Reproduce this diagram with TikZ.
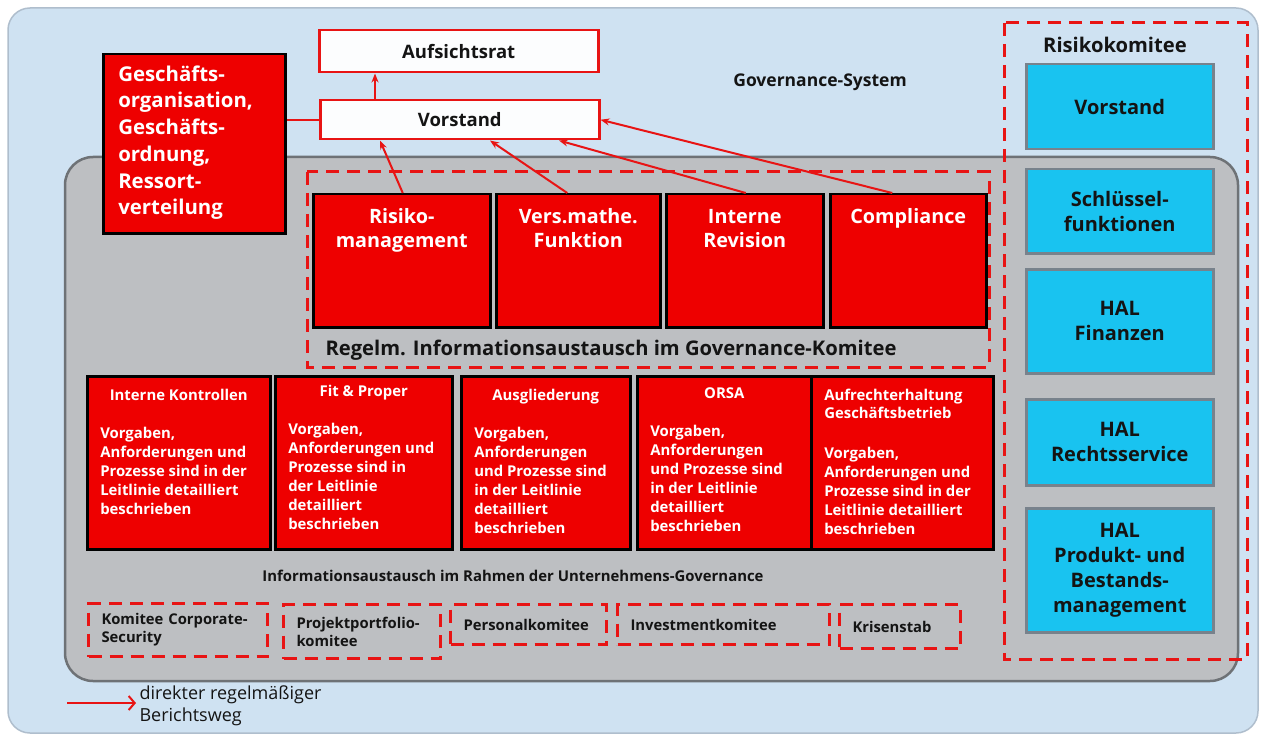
\documentclass[tikz,border=0pt]{standalone}
\usepackage{fontspec}
\setmainfont{Open Sans}
\usetikzlibrary{arrows.meta}

\definecolor{bgblue}{RGB}{207,226,242}
\definecolor{bgedge}{RGB}{175,190,205}
\definecolor{panelgray}{RGB}{189,191,194}
\definecolor{paneledge}{RGB}{110,114,118}
\definecolor{boxred}{RGB}{238,0,0}
\definecolor{linered}{RGB}{232,20,20}
\definecolor{hal}{RGB}{25,195,240}
\definecolor{haledge}{RGB}{120,130,140}
\definecolor{ink}{RGB}{20,20,20}

% text at the top of a fixed box
\newcommand\boxtext[3]{\parbox[c][#2][t]{#1}{#3}}
\newcommand\topgap[1]{\rule{0pt}{#1}}

\tikzset{
  redbox/.style={draw=black, line width=2.5pt, fill=boxred, text=white, inner ysep=0pt, anchor=north west},
  whitebox/.style={draw=linered, line width=2.5pt, fill=white!94!bgblue, text=ink, anchor=north west,
    font=\bfseries\fontsize{18.5}{20}\selectfont},
  halbox/.style={draw=haledge, line width=2.5pt, fill=hal, text=ink, minimum width=187pt,
    anchor=north west, align=center, font=\bfseries\fontsize{20}{25}\selectfont},
  dashbox/.style={draw=linered, line width=3pt, dash pattern=on 13pt off 8pt},
  komitee/.style={dashbox, text=ink, anchor=north west, inner xsep=13pt, inner ysep=0pt, align=left,
    font=\bfseries\fontsize{14.8}{18}\selectfont},
  report/.style={draw=linered, line width=2pt, -{Stealth[length=9pt,width=7pt]}},
  lbl/.style={text=ink, font=\bfseries\fontsize{#1}{#1}\selectfont},
}

\begin{document}
\begin{tikzpicture}[x=1pt,y=-1pt]
\useasboundingbox (0,0) rectangle (1263,738);

% panels
\draw[fill=bgblue, draw=bgedge, line width=1.5pt, rounded corners=22pt] (8,8) rectangle (1258,733);
\draw[fill=panelgray, draw=paneledge, line width=2.5pt, rounded corners=28pt] (65,157) rectangle (1238,681);
\draw[dashbox] (1004,23) rectangle (1247,659);
\draw[dashbox] (307,172) rectangle (989,367);

% top
\node[whitebox, minimum width=279pt, minimum height=42pt] (aufs) at (318,29) {Aufsichtsrat};
\node[whitebox, minimum width=279pt, minimum height=39pt] (vst) at (319,99) {Vorstand};
\node[redbox, inner xsep=15pt, font=\bfseries\fontsize{20.4}{26.7}\selectfont] (gesch) at (102,53)
  {\boxtext{152pt}{179pt}{\raggedright\topgap{27pt}Geschäfts-\\organisation,\\Geschäfts-\\ordnung,\\Ressort-\\verteilung}};
\node[lbl=17.5] (govsys) at (820,82) {Governance-System};

% key functions
\begin{scope}[every node/.append style={redbox, inner xsep=0pt, font=\bfseries\fontsize{19.8}{24}\selectfont}]
\node (risk) at (312,193) {\boxtext{177pt}{133pt}{\centering\topgap{29pt}Risiko-\\management}};
\node (vers) at (495,193) {\boxtext{164pt}{133pt}{\centering\topgap{29pt}Vers.mathe.\\Funktion}};
\node (rev)  at (665,193) {\boxtext{157pt}{133pt}{\centering\topgap{29pt}Interne\\Revision}};
\node (comp) at (829,193) {\boxtext{156pt}{133pt}{\centering\topgap{29pt}Compliance}};
\end{scope}
\node[lbl=20.2, anchor=west] (regelm) at (322,350) {Regelm. Informationsaustausch im Governance-Komitee};

\draw[linered, line width=2pt] (vst.west) -- (vst.west -| gesch.east);
\draw[report] ([xshift=56pt]vst.north west) -- ([xshift=57pt]aufs.south west);
\draw[report] ([xshift=1pt]risk.north) -- ([xshift=61pt]vst.south west);
\draw[report] ([xshift=-11pt]vers.north) -- ([xshift=171pt]vst.south west);
\draw[report] ([xshift=1pt]rev.north) -- ([xshift=240pt]vst.south west);
\draw[report] ([xshift=-16pt]comp.north) -- (vst.east);

% guidelines
\begin{scope}[every node/.append style={redbox, inner xsep=13pt, font=\bfseries\fontsize{14.9}{19}\selectfont}]
\node (ikon) at (86,375) {\boxtext{157pt}{173pt}{\centering\topgap{24pt}Interne Kontrollen\par\raggedright\vspace{19pt}%
  Vorgaben,\\Anforderungen und\\Prozesse sind in der\\Leitlinie detailliert\\beschrieben}};
\node (fit) at (274,375) {\boxtext{151pt}{173pt}{\centering\topgap{20pt}Fit \& Proper\par\raggedright\vspace{19pt}%
  Vorgaben,\\Anforderungen und\\Prozesse sind in\\der Leitlinie\\detailliert\\beschrieben}};
\node (ausg) at (460,375) {\boxtext{143pt}{173pt}{\centering\topgap{24pt}Ausgliederung\par\raggedright\vspace{19pt}%
  Vorgaben,\\Anforderungen\\und Prozesse sind\\in der Leitlinie\\detailliert\\beschrieben}};
\node (orsa) at (636,375) {\boxtext{148pt}{173pt}{\centering\topgap{22pt}ORSA\par\raggedright\vspace{19pt}%
  Vorgaben,\\Anforderungen\\und Prozesse sind\\in der Leitlinie\\detailliert\\beschrieben}};
\node (aufr) at (810,375) {\boxtext{156pt}{173pt}{\raggedright\topgap{24pt}Aufrechterhaltung\\[-1pt]Geschäftsbetrieb\par\vspace{21pt}%
  Vorgaben,\\Anforderungen und\\Prozesse sind in der\\Leitlinie detailliert\\beschrieben}};
\end{scope}
\node[lbl=14.9] (info) at (513,576) {Informationsaustausch im Rahmen der Unternehmens-Governance};

% committees
\node[komitee, text width=153pt, minimum height=53pt] (kcs) at (87,602) {Komitee Corporate-\\Security};
\node[komitee, text width=131pt, minimum height=54pt] (ppk) at (282,603) {Projektportfolio-\\komitee};
\node[komitee, text width=130pt, minimum height=40pt] (pers) at (449,603) {Personalkomitee};
\node[komitee, text width=186pt, minimum height=40pt] (inv) at (616,603) {Investmentkomitee};
\node[komitee, text width=95pt, minimum height=44pt] (kris) at (838,603) {Krisenstab};

% Risikokomitee
\node[lbl=20.2] (rk) at (1115,45) {Risikokomitee};
\node[halbox, minimum height=85pt] (rkv) at (1025,63) {Vorstand};
\node[halbox, minimum height=84pt] (rks) at (1025,168) {Schlüssel-\\funktionen};
\node[halbox, minimum height=104pt] (rkf) at (1025,268) {HAL\\Finanzen};
\node[halbox, minimum height=86pt] (rkr) at (1025,398) {HAL\\Rechtsservice};
\node[halbox, minimum height=124pt] (rkp) at (1025,507) {HAL\\Produkt- und\\Bestands-\\management};

% legend
\coordinate (legs) at (67,703);
\node[text=ink, anchor=west, align=left, font=\fontsize{18}{22}\selectfont] (leg) at (136,706)
  {direkter regelmäßiger\\Berichtsweg};
\draw[draw=linered, line width=2pt, -{Straight Barb[length=6pt,width=14pt]}] (legs) -- (legs -| leg.west);
\end{tikzpicture}
\end{document}
